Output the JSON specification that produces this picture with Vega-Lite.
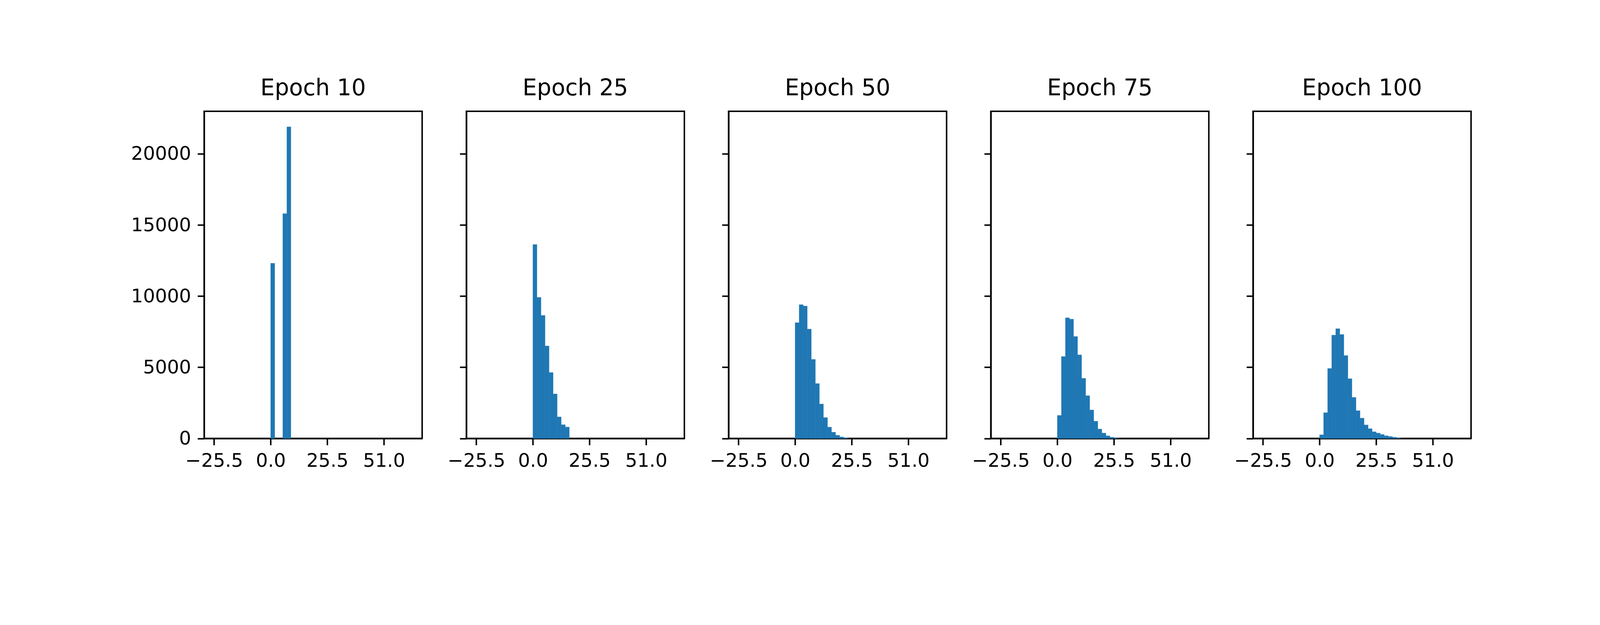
{
  "$schema": "https://vega.github.io/schema/vega-lite/v6.json",
  "background": "white",
  "autosize": {"type": "none"},
  "padding": {"left": 522.6, "top": 284.8, "right": 3658, "bottom": 1108},
  "spacing": 112.3,
  "bounds": "flush",
  "config": {
    "font": "DejaVu Sans",
    "view": {"stroke": "black", "strokeWidth": 3.8},
    "title": {"font": "DejaVu Sans", "fontSize": 58.1, "fontWeight": "normal", "color": "black", "baseline": "alphabetic", "offset": 29},
    "axis": {
      "labelFont": "DejaVu Sans", "labelFontSize": 48.4, "labelColor": "black",
      "tickColor": "black", "tickWidth": 3.8, "tickSize": 16.9, "labelPadding": 16.9,
      "domainColor": "black", "domainWidth": 3.8, "grid": false, "title": null, "zindex": 1
    },
    "bar": {"color": "#1f77b4", "stroke": "#1f77b4", "strokeWidth": 0.6}
  },
  "data": {
    "values": [
      {"epoch": 10, "bin_start": 0, "bin_end": 1.8214, "count": 12310},
      {"epoch": 10, "bin_start": 5.4643, "bin_end": 7.2857, "count": 15800},
      {"epoch": 10, "bin_start": 7.2857, "bin_end": 9.1071, "count": 21896},

      {"epoch": 25, "bin_start": 0, "bin_end": 1.8214, "count": 13627},
      {"epoch": 25, "bin_start": 1.8214, "bin_end": 3.6429, "count": 9915},
      {"epoch": 25, "bin_start": 3.6429, "bin_end": 5.4643, "count": 8645},
      {"epoch": 25, "bin_start": 5.4643, "bin_end": 7.2857, "count": 6496},
      {"epoch": 25, "bin_start": 7.2857, "bin_end": 9.1071, "count": 4630},
      {"epoch": 25, "bin_start": 9.1071, "bin_end": 10.9286, "count": 3126},
      {"epoch": 25, "bin_start": 10.9286, "bin_end": 12.75, "count": 1514},
      {"epoch": 25, "bin_start": 12.75, "bin_end": 14.5714, "count": 967},
      {"epoch": 25, "bin_start": 14.5714, "bin_end": 16.3929, "count": 801},

      {"epoch": 50, "bin_start": 0, "bin_end": 1.8214, "count": 8135},
      {"epoch": 50, "bin_start": 1.8214, "bin_end": 3.6429, "count": 9402},
      {"epoch": 50, "bin_start": 3.6429, "bin_end": 5.4643, "count": 9307},
      {"epoch": 50, "bin_start": 5.4643, "bin_end": 7.2857, "count": 7681},
      {"epoch": 50, "bin_start": 7.2857, "bin_end": 9.1071, "count": 5554},
      {"epoch": 50, "bin_start": 9.1071, "bin_end": 10.9286, "count": 3857},
      {"epoch": 50, "bin_start": 10.9286, "bin_end": 12.75, "count": 2422},
      {"epoch": 50, "bin_start": 12.75, "bin_end": 14.5714, "count": 1466},
      {"epoch": 50, "bin_start": 14.5714, "bin_end": 16.3929, "count": 797},
      {"epoch": 50, "bin_start": 16.3929, "bin_end": 18.2143, "count": 438},
      {"epoch": 50, "bin_start": 18.2143, "bin_end": 20.0357, "count": 223},
      {"epoch": 50, "bin_start": 20.0357, "bin_end": 21.8571, "count": 104},
      {"epoch": 50, "bin_start": 21.8571, "bin_end": 23.6786, "count": 40},

      {"epoch": 75, "bin_start": 0, "bin_end": 1.8214, "count": 1618},
      {"epoch": 75, "bin_start": 1.8214, "bin_end": 3.6429, "count": 5753},
      {"epoch": 75, "bin_start": 3.6429, "bin_end": 5.4643, "count": 8478},
      {"epoch": 75, "bin_start": 5.4643, "bin_end": 7.2857, "count": 8382},
      {"epoch": 75, "bin_start": 7.2857, "bin_end": 9.1071, "count": 7163},
      {"epoch": 75, "bin_start": 9.1071, "bin_end": 10.9286, "count": 5873},
      {"epoch": 75, "bin_start": 10.9286, "bin_end": 12.75, "count": 4223},
      {"epoch": 75, "bin_start": 12.75, "bin_end": 14.5714, "count": 3004},
      {"epoch": 75, "bin_start": 14.5714, "bin_end": 16.3929, "count": 2000},
      {"epoch": 75, "bin_start": 16.3929, "bin_end": 18.2143, "count": 1211},
      {"epoch": 75, "bin_start": 18.2143, "bin_end": 20.0357, "count": 661},
      {"epoch": 75, "bin_start": 20.0357, "bin_end": 21.8571, "count": 375},
      {"epoch": 75, "bin_start": 21.8571, "bin_end": 23.6786, "count": 183},
      {"epoch": 75, "bin_start": 23.6786, "bin_end": 25.5, "count": 88},
      {"epoch": 75, "bin_start": 25.5, "bin_end": 27.3214, "count": 24},

      {"epoch": 100, "bin_start": 0, "bin_end": 1.8214, "count": 255},
      {"epoch": 100, "bin_start": 1.8214, "bin_end": 3.6429, "count": 1809},
      {"epoch": 100, "bin_start": 3.6429, "bin_end": 5.4643, "count": 4916},
      {"epoch": 100, "bin_start": 5.4643, "bin_end": 7.2857, "count": 7259},
      {"epoch": 100, "bin_start": 7.2857, "bin_end": 9.1071, "count": 7713},
      {"epoch": 100, "bin_start": 9.1071, "bin_end": 10.9286, "count": 7307},
      {"epoch": 100, "bin_start": 10.9286, "bin_end": 12.75, "count": 5825},
      {"epoch": 100, "bin_start": 12.75, "bin_end": 14.5714, "count": 4199},
      {"epoch": 100, "bin_start": 14.5714, "bin_end": 16.3929, "count": 2884},
      {"epoch": 100, "bin_start": 16.3929, "bin_end": 18.2143, "count": 1952},
      {"epoch": 100, "bin_start": 18.2143, "bin_end": 20.0357, "count": 1426},
      {"epoch": 100, "bin_start": 20.0357, "bin_end": 21.8571, "count": 948},
      {"epoch": 100, "bin_start": 21.8571, "bin_end": 23.6786, "count": 685},
      {"epoch": 100, "bin_start": 23.6786, "bin_end": 25.5, "count": 470},
      {"epoch": 100, "bin_start": 25.5, "bin_end": 27.3214, "count": 375},
      {"epoch": 100, "bin_start": 27.3214, "bin_end": 29.1429, "count": 279},
      {"epoch": 100, "bin_start": 29.1429, "bin_end": 30.9643, "count": 183},
      {"epoch": 100, "bin_start": 30.9643, "bin_end": 32.7857, "count": 135},
      {"epoch": 100, "bin_start": 32.7857, "bin_end": 34.6071, "count": 88},
      {"epoch": 100, "bin_start": 34.6071, "bin_end": 36.4286, "count": 40}
    ]
  },
  "hconcat": [
    {
      "title": "Epoch 10",
      "width": 558.1, "height": 837.6,
      "transform": [{"filter": "datum.epoch == 10"}],
      "mark": "bar",
      "encoding": {
        "x": {"field": "bin_start", "type": "quantitative", "scale": {"domain": [-29.9625, 68.2125], "nice": false, "zero": false},
              "axis": {"values": [-25.5, 0, 25.5, 51], "format": ".1f"}},
        "x2": {"field": "bin_end"},
        "y": {"field": "count", "type": "quantitative", "scale": {"domain": [0, 22995], "nice": false},
              "axis": {"values": [0, 5000, 10000, 15000, 20000], "format": "d"}},
        "y2": {"datum": 0}
      }
    },
    {
      "title": "Epoch 25",
      "width": 558.1, "height": 837.6,
      "transform": [{"filter": "datum.epoch == 25"}],
      "mark": "bar",
      "encoding": {
        "x": {"field": "bin_start", "type": "quantitative", "scale": {"domain": [-29.9625, 68.2125], "nice": false, "zero": false},
              "axis": {"values": [-25.5, 0, 25.5, 51], "format": ".1f"}},
        "x2": {"field": "bin_end"},
        "y": {"field": "count", "type": "quantitative", "scale": {"domain": [0, 22995], "nice": false},
              "axis": {"values": [0, 5000, 10000, 15000, 20000], "labels": false}},
        "y2": {"datum": 0}
      }
    },
    {
      "title": "Epoch 50",
      "width": 558.1, "height": 837.6,
      "transform": [{"filter": "datum.epoch == 50"}],
      "mark": "bar",
      "encoding": {
        "x": {"field": "bin_start", "type": "quantitative", "scale": {"domain": [-29.9625, 68.2125], "nice": false, "zero": false},
              "axis": {"values": [-25.5, 0, 25.5, 51], "format": ".1f"}},
        "x2": {"field": "bin_end"},
        "y": {"field": "count", "type": "quantitative", "scale": {"domain": [0, 22995], "nice": false},
              "axis": {"values": [0, 5000, 10000, 15000, 20000], "labels": false}},
        "y2": {"datum": 0}
      }
    },
    {
      "title": "Epoch 75",
      "width": 558.1, "height": 837.6,
      "transform": [{"filter": "datum.epoch == 75"}],
      "mark": "bar",
      "encoding": {
        "x": {"field": "bin_start", "type": "quantitative", "scale": {"domain": [-29.9625, 68.2125], "nice": false, "zero": false},
              "axis": {"values": [-25.5, 0, 25.5, 51], "format": ".1f"}},
        "x2": {"field": "bin_end"},
        "y": {"field": "count", "type": "quantitative", "scale": {"domain": [0, 22995], "nice": false},
              "axis": {"values": [0, 5000, 10000, 15000, 20000], "labels": false}},
        "y2": {"datum": 0}
      }
    },
    {
      "title": "Epoch 100",
      "width": 558.1, "height": 837.6,
      "transform": [{"filter": "datum.epoch == 100"}],
      "mark": "bar",
      "encoding": {
        "x": {"field": "bin_start", "type": "quantitative", "scale": {"domain": [-29.9625, 68.2125], "nice": false, "zero": false},
              "axis": {"values": [-25.5, 0, 25.5, 51], "format": ".1f"}},
        "x2": {"field": "bin_end"},
        "y": {"field": "count", "type": "quantitative", "scale": {"domain": [0, 22995], "nice": false},
              "axis": {"values": [0, 5000, 10000, 15000, 20000], "labels": false}},
        "y2": {"datum": 0}
      }
    }
  ]
}
